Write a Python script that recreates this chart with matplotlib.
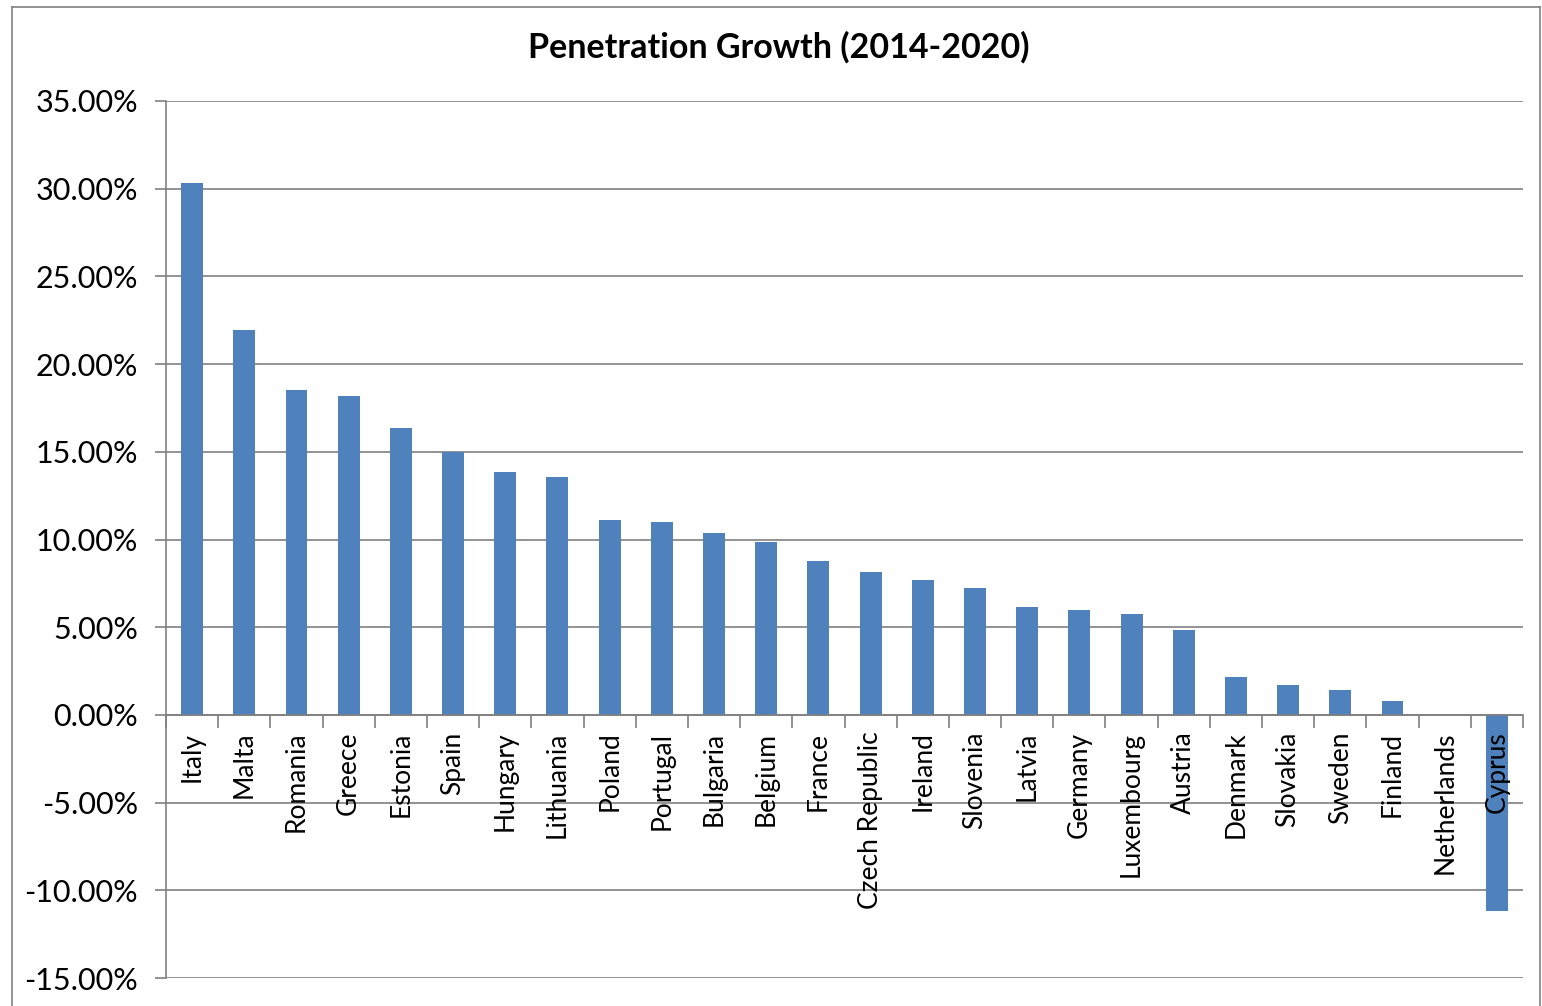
import numpy as np
import matplotlib.pyplot as plt
from matplotlib.ticker import FuncFormatter, MultipleLocator, FixedLocator
from matplotlib.lines import Line2D

# Dados
paises = ['Italy', 'Malta', 'Romania', 'Greece', 'Estonia', 'Spain', 'Hungary',
          'Lithuania', 'Poland', 'Portugal', 'Bulgaria', 'Belgium', 'France',
          'Czech Republic', 'Ireland', 'Slovenia', 'Latvia', 'Germany',
          'Luxembourg', 'Austria', 'Denmark', 'Slovakia', 'Sweden', 'Finland',
          'Netherlands', 'Cyprus']
crescimento = [30.33, 21.97, 18.50, 18.16, 16.33, 14.97, 13.83, 13.55, 11.10,
               10.98, 10.36, 9.85, 8.76, 8.14, 7.68, 7.23, 6.15, 5.98, 5.75,
               4.84, 2.16, 1.71, 1.42, 0.80, 0.0, -11.16]
titulo = 'Penetration Growth (2014-2020)'

plt.rcParams['font.family'] = ['Lato', 'DejaVu Sans']
cor_grade = '#808080'

fig = plt.figure(figsize=(15.42, 10.06), dpi=100)
ax = fig.add_axes([166/1542, 1 - 978/1006, (1523 - 166)/1542, (978 - 101)/1006])

x = np.arange(len(paises))
ax.bar(x, crescimento, width=0.42, color='#4F81BD', zorder=3)

ax.set_xlim(-0.5, len(paises) - 0.5)
ax.set_ylim(-15, 35)
ax.yaxis.set_major_locator(MultipleLocator(5))
ax.yaxis.set_major_formatter(FuncFormatter(lambda v, p: f'{v:.2f}%'))
ax.grid(axis='y', color=cor_grade, linewidth=1.2)
ax.tick_params(axis='y', labelsize=22, length=8, width=1.2, color=cor_grade, pad=12)

# eixo x na linha do zero
ax.spines['top'].set_visible(False)
ax.spines['right'].set_visible(False)
ax.spines['left'].set_color(cor_grade)
ax.spines['left'].set_linewidth(1.2)
ax.spines['bottom'].set_position(('data', 0))
ax.spines['bottom'].set_color(cor_grade)
ax.spines['bottom'].set_linewidth(1.2)
ax.spines['bottom'].set_zorder(4)

ax.set_xticks(x)
ax.set_xticklabels(paises, rotation=90, va='top', ha='center')
ax.tick_params(axis='x', which='major', length=0, labelsize=19, pad=12)
ax.xaxis.set_minor_locator(FixedLocator(np.arange(len(paises) + 1) - 0.5))
ax.tick_params(axis='x', which='minor', length=9, width=1.2, color=cor_grade, direction='out')
ax.xaxis.set_zorder(5)  # rótulo do Cyprus por cima da barra

fig.text(779/1542, 1 - 47/1006, titulo, ha='center', va='center',
         fontsize=24.5, fontweight='bold')

# moldura da área do gráfico
for linha in [([12/1542, 12/1542], [0, 1 - 7/1006]),
              ([12/1542, 1540/1542], [1 - 7/1006, 1 - 7/1006]),
              ([1540/1542, 1540/1542], [0, 1 - 7/1006])]:
    fig.add_artist(Line2D(linha[0], linha[1], color=cor_grade, linewidth=1.2))

fig.savefig('out.png', dpi=100)
